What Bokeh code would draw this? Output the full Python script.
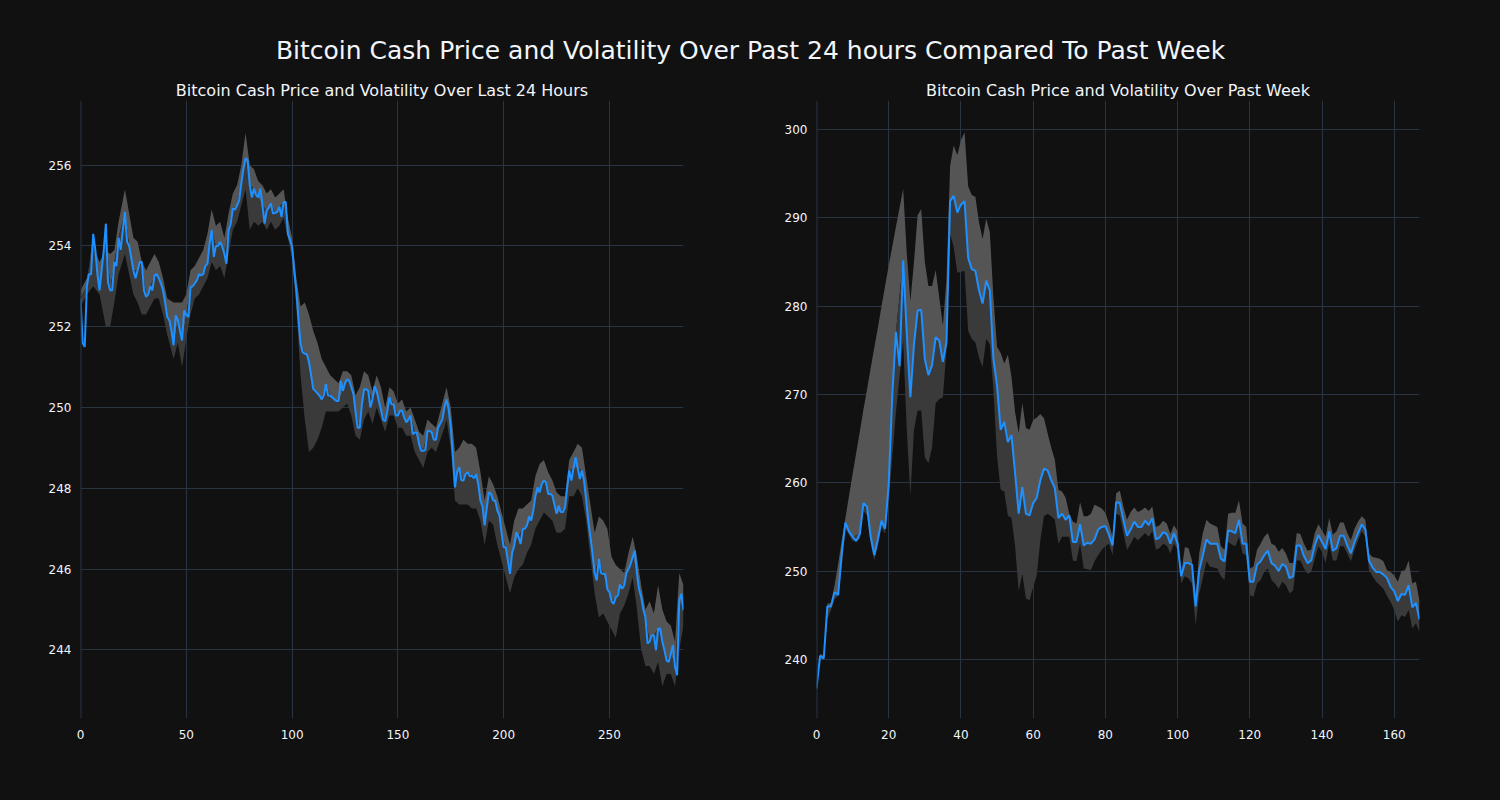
from bokeh.plotting import figure
from bokeh.layouts import column, row
from bokeh.models import Range1d, FixedTicker, Label, Span
from bokeh.embed import file_html
from bokeh.resources import INLINE

# ---------------- data ----------------
main_title = "Bitcoin Cash Price and Volatility Over Past 24 hours Compared To Past Week"
left_title = "Bitcoin Cash Price and Volatility Over Last 24 Hours"
right_title = "Bitcoin Cash Price and Volatility Over Past Week"

day_price = [
    252.7, 251.6, 251.5, 253.0, 253.3, 253.3, 254.3, 253.9, 253.3, 252.9,
    253.4, 253.9, 254.55, 253.1, 252.9, 252.9, 253.6, 253.5, 254.2, 253.9,
    254.4, 254.84, 254.1, 254.0, 253.7, 253.4, 253.2, 253.4, 253.6, 253.6,
    252.9, 252.74, 252.8, 253.0, 252.9, 253.27, 253.3, 253.2, 253.07, 252.9,
    252.6, 252.24, 252.16, 251.9, 251.54, 252.28, 252.16, 251.9, 251.66, 252.4,
    252.3, 252.24, 252.98, 253.0, 253.07, 253.15, 253.3, 253.27, 253.3, 253.5,
    253.56, 254.06, 254.39, 253.73, 254.0, 254.0, 254.1, 253.98, 253.8, 253.56,
    254.39, 254.55, 254.93, 254.9, 255.0, 255.13, 255.55, 255.9, 256.17, 256.12,
    255.5, 255.2, 255.42, 255.26, 255.2, 255.42, 255.0, 254.55, 254.88, 254.95,
    255.05, 254.8, 254.82, 254.84, 254.97, 254.72, 255.09, 255.09, 254.3, 254.15,
    253.98, 253.4, 252.9, 252.2, 251.58, 251.37, 251.33, 251.32, 251.12, 250.8,
    250.46, 250.41, 250.35, 250.29, 250.2, 250.3, 250.58, 250.3, 250.29, 250.25,
    250.2, 250.16, 250.16, 250.66, 250.41, 250.6, 250.7, 250.66, 250.5, 250.33,
    249.9, 249.5, 249.5, 250.08, 250.45, 250.45, 250.41, 250.0, 250.2, 250.53,
    250.4, 250.16, 249.95, 249.7, 249.66, 249.9, 250.25, 250.08, 250.08, 249.8,
    249.8, 249.92, 249.92, 249.75, 249.63, 249.7, 249.8, 249.34, 249.38, 249.38,
    249.1, 248.93, 248.93, 248.95, 249.42, 249.42, 249.38, 249.2, 249.2, 249.5,
    249.6, 249.7, 250.0, 250.2, 249.95, 249.5, 248.8, 248.02, 248.4, 248.52,
    248.2, 248.19, 248.35, 248.4, 248.3, 248.31, 248.25, 248.35, 248.1, 247.7,
    247.55, 247.08, 247.5, 247.9, 247.86, 247.7, 247.7, 247.45, 247.33, 246.9,
    246.54, 246.54, 246.2, 245.88, 246.4, 246.58, 246.91, 246.8, 246.62, 246.99,
    247.0, 247.08, 247.3, 247.2, 247.45, 247.8, 248.02, 247.9, 248.1, 248.19,
    248.15, 247.86, 247.86, 247.82, 247.6, 247.37, 247.57, 247.41, 247.41, 247.53,
    248.0, 248.44, 248.19, 248.5, 248.77, 248.5, 248.23, 248.44, 248.19, 247.7,
    247.2, 246.8, 246.38, 245.9, 245.72, 246.25, 245.9, 245.88, 245.88, 245.5,
    245.43, 245.2, 245.14, 245.3, 245.35, 245.62, 245.51, 245.6, 245.9, 246.0,
    246.13, 246.3, 246.46, 245.88, 245.5, 245.31, 245.0, 244.81, 244.16, 244.2,
    244.36, 244.36, 243.99, 244.53, 244.53, 244.2, 243.99, 243.74, 243.7, 243.9,
    244.12, 243.58, 243.37, 245.23, 245.39, 244.98,
]

day_band_x = [0, 3, 6, 9, 12, 14, 16, 18, 21, 23, 25, 27, 29, 31, 33, 35, 37, 39, 41, 44,
              46, 48, 50, 52, 54, 56, 58, 60, 62, 64, 66, 68, 70, 72, 74, 76, 78, 80, 82, 84,
              86, 88, 90, 92, 94, 96, 98, 100, 102, 104, 106, 108, 110, 112, 114, 116, 118, 120, 122, 124,
              126, 128, 130, 132, 134, 136, 138, 140, 142, 144, 146, 148, 150, 152, 154, 156, 158, 160, 162, 164,
              166, 168, 170, 172, 173, 175, 177, 179, 181, 183, 185, 187, 189, 191, 193, 195, 197, 199, 201, 203,
              205, 207, 209, 211, 213, 215, 217, 219, 221, 223, 225, 227, 229, 231, 233, 235, 237, 239, 241, 243,
              245, 247, 249, 251, 253, 255, 257, 259, 261, 263, 265, 267, 269, 271, 273, 275, 277, 279, 281, 283,
              285]
day_upper = [252.9, 253.2, 254.0, 253.6, 253.9, 253.8, 253.9, 254.6, 255.4, 254.8, 254.2, 254.1, 253.6, 253.4, 253.6, 253.8, 253.6, 253.2, 252.7, 252.6,
             252.6, 252.6, 252.8, 253.4, 253.5, 253.7, 253.9, 254.3, 254.9, 254.5, 254.6, 254.2, 254.8, 255.3, 255.5, 256.0, 256.8, 256.0, 255.9, 255.6,
             255.5, 255.3, 255.4, 255.2, 255.3, 255.4, 254.7, 254.2, 253.2, 252.5, 252.6, 252.3, 251.9, 251.6, 251.2, 251.0, 250.8, 250.7, 250.6, 250.9,
             250.9, 250.8, 250.3, 250.5, 250.9, 250.8, 250.4, 250.8, 250.5, 250.0, 250.5, 250.4, 250.1, 250.2, 249.9, 250.0, 249.7, 249.4, 249.3, 249.7,
             249.6, 249.5, 249.9, 250.3, 250.5, 250.0, 248.9, 249.0, 249.2, 249.1, 249.1, 249.0, 248.4, 247.7, 248.3, 248.1, 247.8, 247.4, 247.0, 246.6,
             247.2, 247.5, 247.5, 247.6, 247.7, 248.3, 248.6, 248.7, 248.4, 248.2, 247.9, 247.8, 247.8, 248.7, 248.9, 249.1, 249.0, 248.3, 247.6, 246.9,
             247.3, 247.2, 247.0, 246.3, 246.1, 246.0, 245.9, 246.4, 246.8, 246.3, 245.6, 245.0, 245.2, 244.9, 245.6, 245.0, 244.7, 244.6, 244.2, 245.9,
             245.6]
day_lower = [252.5, 252.8, 253.0, 252.8, 252.0, 252.0, 252.6, 253.3, 253.8, 253.3, 252.8, 252.6, 252.3, 252.3, 252.5, 252.7, 252.7, 252.3, 251.8, 251.2,
             251.6, 251.0, 251.7, 252.3, 252.7, 252.8, 253.0, 253.2, 253.6, 253.4, 253.5, 253.2, 253.8, 254.4, 254.6, 255.0, 255.4, 254.4, 254.6, 254.5,
             254.6, 254.4, 254.6, 254.4, 254.5, 254.7, 254.2, 253.7, 252.5, 250.8, 249.7, 248.9, 249.0, 249.2, 249.5, 249.9, 249.9, 249.9, 249.9, 250.0,
             250.1, 249.8, 249.3, 249.2, 249.7, 249.9, 249.6, 250.0, 249.7, 249.4, 249.8, 249.8, 249.5, 249.5, 249.3, 249.3, 248.9, 248.7, 248.5, 248.9,
             249.0, 248.9, 249.2, 249.5, 249.7, 249.0, 247.7, 247.6, 247.6, 247.6, 247.5, 247.5, 247.2, 246.6, 247.2, 247.1, 246.6, 246.2, 245.8, 245.4,
             245.8, 246.0, 246.1, 246.4, 246.6, 247.0, 247.2, 247.4, 247.3, 247.2, 246.9, 246.9, 247.0, 247.8, 247.8, 248.0, 247.8, 247.2, 246.3, 245.4,
             244.8, 244.9, 244.7, 244.5, 244.3, 244.9, 245.1, 245.4, 245.8, 245.0, 244.0, 243.6, 243.6, 243.4, 243.7, 243.1, 243.4, 243.4, 243.1, 244.0,
             244.6]

week_price = [
    236.7, 240.4, 240.1, 246.0, 246.0, 247.6, 247.3, 252.0, 255.5, 254.5,
    253.9, 253.4, 254.2, 257.7, 257.3, 253.9, 251.8, 253.6, 255.7, 254.8,
    259.9, 270.0, 277.1, 273.2, 285.2, 276.9, 269.7, 275.7, 279.5, 279.6,
    274.0, 272.2, 273.3, 276.5, 276.1, 273.7, 275.9, 291.9, 292.5, 290.6,
    291.5, 291.9, 285.5, 284.2, 284.0, 281.8, 280.3, 282.9, 281.8, 274.0,
    271.0, 266.0, 266.9, 264.6, 265.4, 261.1, 256.5, 259.5, 256.5, 256.3,
    257.7, 258.3, 260.3, 261.6, 261.4, 260.3, 259.4, 256.0, 256.5, 255.8,
    256.3, 253.3, 253.3, 255.3, 252.9, 253.2, 253.1, 253.6, 254.7, 255.0,
    255.1, 254.1, 252.9, 257.8, 257.7, 255.8, 254.0, 254.7, 255.6, 255.0,
    255.0, 255.7, 255.2, 256.0, 253.6, 253.8, 254.4, 254.2, 253.1, 254.3,
    253.1, 249.4, 250.9, 250.9, 250.7, 246.0, 250.1, 251.8, 253.6, 253.1,
    253.1, 253.1, 251.4, 251.1, 254.6, 254.5, 254.3, 255.8, 253.1, 253.1,
    248.8, 248.8, 250.7, 251.1, 251.8, 252.3, 250.9, 250.6, 250.0, 250.8,
    250.5, 249.2, 249.4, 252.9, 252.9, 251.7, 250.9, 251.2, 252.9, 254.1,
    253.3, 252.5, 254.5, 252.3, 252.6, 254.0, 254.0, 252.9, 252.0, 253.3,
    254.3, 255.3, 254.7, 251.2, 250.4, 249.9, 249.9, 249.6, 249.2, 248.2,
    247.7, 246.6, 247.4, 247.3, 248.4, 245.9, 246.4, 244.5,
]

week_band_x = [0, 1, 2, 3, 4, 5, 6, 7, 8, 10, 12, 13, 14, 15, 16, 17, 18, 19, 20, 22, 24,
               25, 26, 27, 28, 29, 30, 31, 32, 33, 34, 35, 36, 37, 38, 39, 40, 41, 42, 43, 44,
               45, 46, 47, 48, 49, 50, 51, 52, 53, 54, 55, 56, 57, 58, 59, 60, 61, 62, 63, 64,
               65, 66, 67, 68, 69, 70, 71, 72, 73, 74, 75, 76, 77, 78, 79, 80, 81, 82, 83, 84,
               85, 86, 87, 88, 89, 90, 91, 92, 93, 94, 95, 96, 97, 98, 99, 100, 101, 102, 103, 104,
               105, 106, 107, 108, 109, 110, 111, 112, 113, 114, 115, 116, 117, 118, 119, 120, 121, 122, 123, 124,
               125, 126, 127, 128, 129, 130, 131, 132, 133, 134, 135, 136, 137, 138, 139, 140, 141, 142, 143, 144,
               145, 146, 147, 148, 149, 150, 151, 152, 153, 154, 155, 156, 157, 158, 159, 160, 161, 162, 163, 164,
               165, 166, 167]
week_upper = [237.0, 240.6, 240.4, 246.3, 246.4, 248.4, 250.8, 253.5, 256.0, 261.0, 265.8, 268.3, 270.6, 273.0, 275.3, 277.6, 280.0, 282.3, 284.6, 289.0, 293.3,
              286.0, 280.6, 285.0, 290.3, 291.0, 285.0, 282.3, 282.3, 284.1, 281.0, 277.8, 283.0, 295.9, 298.2, 297.1, 298.8, 299.7, 293.6, 292.6, 292.4,
              289.5, 287.6, 289.9, 288.4, 281.0, 275.4, 274.7, 273.5, 274.5, 272.0, 268.0, 265.6, 269.0, 266.2, 266.0, 267.1, 267.4, 267.8, 267.3, 265.6,
              264.0, 262.6, 259.2, 259.0, 258.3, 256.5, 255.6, 255.4, 257.8, 256.2, 256.2, 256.5, 257.5, 257.3, 257.1, 256.6, 255.4, 253.9, 258.8, 259.1,
              257.3, 255.8, 256.7, 257.2, 256.7, 256.9, 257.2, 256.8, 257.3, 255.0, 255.2, 255.7, 255.4, 254.2, 255.2, 254.5, 249.7, 252.7, 252.6, 251.2,
              247.1, 252.0, 254.3, 255.8, 255.4, 255.2, 255.0, 252.8, 252.4, 256.5, 256.6, 256.6, 258.0, 255.4, 255.0, 250.3, 250.5, 252.4, 253.1, 253.9,
              254.3, 253.1, 252.9, 252.2, 252.6, 252.0, 250.9, 250.9, 254.3, 254.2, 253.1, 252.3, 252.4, 254.3, 255.3, 254.6, 253.9, 256.0, 254.1, 254.5,
              255.5, 255.5, 254.3, 253.5, 254.8, 255.6, 256.2, 255.8, 252.0, 251.6, 251.5, 251.4, 251.1, 250.1, 249.9, 249.5, 248.8, 250.0, 250.1, 251.2,
              248.6, 248.8, 246.7]
week_lower = [236.5, 240.1, 239.9, 244.5, 245.6, 246.8, 247.2, 250.5, 254.8, 253.4, 253.6, 256.8, 256.3, 253.2, 251.2, 252.9, 255.0, 254.2, 258.0, 268.0, 276.0,
              266.0, 258.5, 266.0, 268.2, 268.2, 262.9, 262.2, 264.0, 269.0, 269.5, 269.7, 275.0, 288.2, 286.7, 283.8, 283.9, 284.0, 277.2, 276.3, 275.9,
              274.2, 273.1, 276.3, 275.7, 270.5, 263.0, 259.2, 259.0, 256.3, 256.0, 252.8, 247.7, 249.7, 246.9, 246.7, 248.2, 249.5, 253.5, 256.2, 256.5,
              256.2, 255.8, 253.1, 253.9, 253.9, 253.9, 251.2, 251.1, 253.1, 250.3, 250.2, 250.1, 251.1, 251.8, 252.4, 252.8, 253.1, 251.8, 256.5, 256.3,
              254.3, 252.4, 253.1, 253.9, 253.5, 253.9, 254.3, 253.9, 254.5, 252.4, 252.6, 253.1, 252.9, 252.0, 253.1, 252.4, 248.6, 249.4, 249.2, 248.6,
              243.9, 247.5, 249.2, 251.1, 250.5, 250.4, 250.3, 249.4, 249.0, 253.3, 253.0, 252.8, 253.9, 252.0, 251.8, 247.3, 247.1, 248.6, 249.0, 249.9,
              250.3, 249.0, 248.6, 248.0, 248.8, 248.4, 247.5, 247.8, 251.2, 251.2, 250.3, 249.7, 249.9, 251.4, 252.8, 252.2, 250.9, 253.1, 251.2, 251.2,
              252.8, 252.8, 252.0, 251.1, 252.4, 253.5, 254.5, 253.9, 250.1, 249.4, 248.8, 248.4, 248.0, 247.2, 246.5, 245.6, 244.3, 245.0, 244.8, 245.6,
              243.5, 244.1, 243.1]

day_xticks = [0, 50, 100, 150, 200, 250]
day_yticks = [244, 246, 248, 250, 252, 254, 256]
week_xticks = [0, 20, 40, 60, 80, 100, 120, 140, 160]
week_yticks = [240, 250, 260, 270, 280, 290, 300]

# ---------------- style ----------------
BG = "#111111"
GRID = "#283442"
TXT = "#f2f5fa"
LINE = "#1e90ff"
LIGHT = "#555555"
DARK = "#3a3a3a"
FONT = "DejaVu Sans"


def make_panel(title, price, bx, up, lo, xr, yr, xt, yt, bl, br):
    p = figure(width=bl + 603 + br, height=724, output_backend="svg", toolbar_location=None,
               x_range=Range1d(*xr), y_range=Range1d(*yr),
               min_border_left=bl, min_border_right=br,
               min_border_top=32, min_border_bottom=74)
    p.background_fill_color = BG
    p.border_fill_color = BG
    p.outline_line_color = None
    p.title.text = title
    p.title.align = "center"
    p.title.text_color = TXT
    p.title.text_font = FONT
    p.title.text_font_size = "16px"
    p.title.text_font_style = "normal"
    p.title.standoff = 2
    xs = list(range(len(price)))
    mid = [price[i] for i in bx]
    p.varea(x=bx, y1=mid, y2=up, fill_color=LIGHT, fill_alpha=1.0)
    p.varea(x=bx, y1=lo, y2=mid, fill_color=DARK, fill_alpha=1.0)
    p.line(xs, price, line_color=LINE, line_width=2)
    p.add_layout(Span(location=0, dimension="height", line_color=GRID, line_width=2))
    p.xaxis.ticker = FixedTicker(ticks=xt)
    p.yaxis.ticker = FixedTicker(ticks=yt)
    for ax in (p.xaxis, p.yaxis):
        ax.axis_line_color = None
        ax.major_tick_line_color = None
        ax.minor_tick_line_color = None
        ax.major_label_text_color = TXT
        ax.major_label_text_font = FONT
        ax.major_label_text_font_size = "12px"
    p.yaxis.major_label_standoff = 3
    p.xaxis.major_label_standoff = 5
    p.grid.grid_line_color = GRID
    p.grid.grid_line_width = 1
    return p


left = make_panel(left_title, day_price, day_band_x, day_upper, day_lower,
                  (0, 285), (242.3, 257.6), day_xticks, day_yticks, 80, 67)
right = make_panel(right_title, week_price, week_band_x, week_upper, week_lower,
                   (0, 167), (233.3, 303.3), week_xticks, week_yticks, 66, 73)

top = figure(width=1489, height=68, output_backend="svg", toolbar_location=None,
             x_range=Range1d(0, 1), y_range=Range1d(0, 1), min_border=0,
             x_axis_location=None, y_axis_location=None)
top.background_fill_color = BG
top.border_fill_color = BG
top.outline_line_color = None
top.grid.visible = False
top.add_layout(Label(x=750, y=18, x_units="screen", y_units="screen", text=main_title,
                     text_align="center", text_baseline="middle", text_color=TXT,
                     text_font=FONT, text_font_size="25px"))

layout = column(top, row(left, right), styles={"background-color": BG})
html = file_html(layout, INLINE)
html = html.replace("<body>", '<body style="background-color:#111111;">')
open("out.html", "w").write(html)
